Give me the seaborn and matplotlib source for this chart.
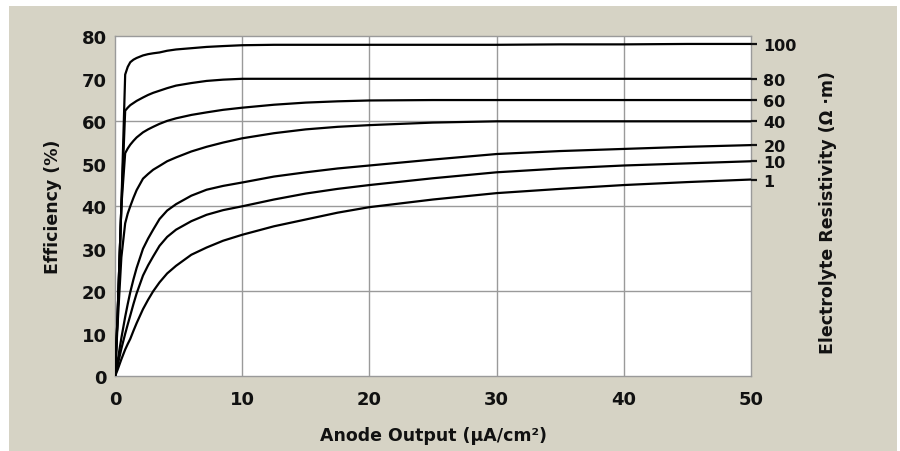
import numpy as np
import pandas as pd
import matplotlib
matplotlib.use("Agg")
import matplotlib.pyplot as plt
from matplotlib.patches import Rectangle
import seaborn as sns

# ---- data ----
anode_output = [0, 0.2, 0.5, 0.8, 1.0, 1.2, 1.45, 1.7, 2.2, 2.6, 3, 3.5, 4.1, 4.8, 6, 7.2,
                8.5, 10, 12.5, 15, 17.5, 20, 25, 30, 35, 40, 45, 50]
eff_100 = [0, 14, 40, 71, 72.8, 73.9, 74.5, 74.9, 75.5, 75.8, 76, 76.2, 76.6, 76.9, 77.2,
           77.5, 77.7, 77.9, 78, 78, 78, 78, 78, 78, 78.1, 78.1, 78.2, 78.2]
eff_80 = [0, 14, 40, 62.5, 63.2, 63.8, 64.3, 64.8, 65.6, 66.2, 66.7, 67.2, 67.8, 68.4, 69,
          69.5, 69.8, 70, 70, 70, 70, 70, 70, 70, 70, 70, 70, 70]
eff_60 = [0, 14, 40, 52.5, 53.6, 54.5, 55.4, 56.2, 57.4, 58.1, 58.7, 59.4, 60.1, 60.7, 61.5,
          62.1, 62.7, 63.2, 63.9, 64.4, 64.7, 64.9, 65, 65, 65, 65, 65, 65]
eff_40 = [0, 12, 28, 36, 38.3, 40, 42, 43.8, 46.5, 47.6, 48.6, 49.5, 50.6, 51.5, 52.9,
          54, 55, 56, 57.2, 58.1, 58.7, 59.1, 59.7, 60, 60, 60, 60, 60]
eff_20 = [0, 3.5, 9, 14, 17, 19.8, 22.8, 25.5, 30, 32.4, 34.5, 37, 39, 40.5, 42.5,
          43.9, 44.8, 45.6, 47, 48, 48.9, 49.6, 51, 52.3, 53, 53.5, 54, 54.4]
eff_10 = [0, 2.5, 6.5, 10, 12.2, 14.3, 17, 19.5, 23.7, 26.1, 28.2, 30.7, 32.8, 34.5, 36.5,
          38, 39.1, 40, 41.6, 43, 44.1, 45, 46.6, 48, 48.9, 49.6, 50.1, 50.6]
eff_1 = [0, 1.5, 4, 6.3, 7.6, 8.8, 10.7, 12.5, 15.8, 18, 20, 22.1, 24.2, 26, 28.6,
         30.3, 31.9, 33.3, 35.3, 36.9, 38.5, 39.8, 41.6, 43.1, 44.1, 45, 45.7, 46.3]

resistivity_labels = ["100", "80", "60", "40", "20", "10", "1"]
series = [eff_100, eff_80, eff_60, eff_40, eff_20, eff_10, eff_1]

x_ticks = [0, 10, 20, 30, 40, 50]
y_ticks = [0, 10, 20, 30, 40, 50, 60, 70, 80]

rows = []
for lab, vals in zip(resistivity_labels, series):
    for xv, yv in zip(anode_output, vals):
        rows.append({"x": xv, "y": yv, "res": lab})
df = pd.DataFrame(rows)

# ---- style ----
sns.set_theme(style="white")
plt.rcParams["font.family"] = ["DejaVu Sans"]
plt.rcParams["font.weight"] = "bold"

BEIGE = "#d6d3c5"
GRID = "#9a9a9a"

fig = plt.figure(figsize=(9, 4.52), dpi=100)
fig.patch.set_facecolor("white")
fig.patches.append(Rectangle((9 / 900, 0), (897 - 9) / 900, (452 - 7) / 452,
                             transform=fig.transFigure, facecolor=BEIGE,
                             edgecolor="none", zorder=-10))

ax = fig.add_axes([115 / 900, 1 - 377.3 / 452, (751 - 115) / 900, (377.3 - 37.3) / 452])
ax.set_zorder(1)
ax.set_facecolor("white")

sns.lineplot(data=df, x="x", y="y", hue="res", hue_order=resistivity_labels,
             palette=["black"] * len(resistivity_labels), estimator=None,
             sort=False, legend=False, linewidth=1.6, ax=ax, zorder=3)

ax.set_xlim(0, 50)
ax.set_ylim(0, 80)
ax.set_xticks(x_ticks)
ax.set_yticks(y_ticks)
ax.set_xticklabels([str(t) for t in x_ticks], fontsize=13, fontweight="bold")
ax.set_yticklabels([str(t) for t in y_ticks], fontsize=13, fontweight="bold")
ax.tick_params(axis="both", length=0, colors="#111111")
ax.tick_params(axis="x", pad=10)
ax.tick_params(axis="y", pad=6)

for xv in [10, 20, 30, 40]:
    ax.axvline(xv, color=GRID, lw=1.0, zorder=1)
for yv in [20, 40, 60]:
    ax.axhline(yv, color=GRID, lw=1.0, zorder=1)

for s in ax.spines.values():
    s.set_color(GRID)
    s.set_linewidth(1.0)

ax.set_xlabel("Anode Output (µA/cm²)", fontsize=12.5, fontweight="bold", color="#111111")
ax.set_ylabel("Efficiency (%)", fontsize=12.5, fontweight="bold", color="#111111")
ax.xaxis.label.set_va("center")
ax.xaxis.set_label_coords(0.5, (377.3 - 436) / 340)
ax.yaxis.label.set_va("center")
ax.yaxis.set_label_coords((53 - 115) / 636, 0.5)

# right-hand resistivity ticks
ax2 = ax.twinx()
ax2.set_zorder(2)
ax2.patch.set_visible(False)
ax2.set_ylim(0, 80)
ends = [vals[-1] for vals in series]
ax2.set_yticks(ends)
ax2.set_yticklabels(resistivity_labels, fontsize=11.5, fontweight="bold")
ax2.tick_params(axis="y", length=4, width=1.6, direction="out", colors="#111111", pad=5)
for s in ax2.spines.values():
    s.set_visible(False)
ax2.set_ylabel("Electrolyte Resistivity (Ω ·m)", fontsize=12.5, fontweight="bold",
               color="#111111")
ax2.yaxis.label.set_va("center")
ax2.yaxis.set_label_coords((828 - 115) / 636, (377.3 - 213) / 340)
ax2.grid(False)

fig.savefig("out.png", dpi=100, facecolor=fig.get_facecolor())
